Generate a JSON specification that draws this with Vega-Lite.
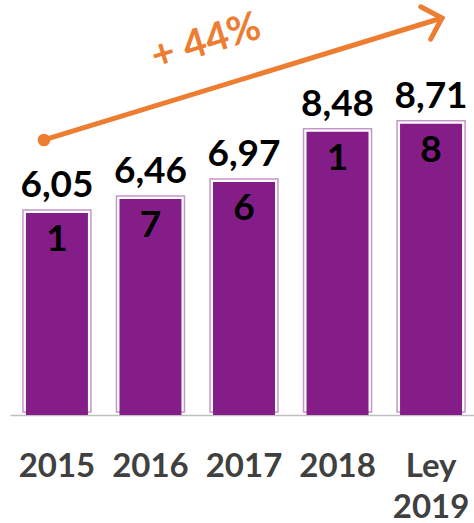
{
  "$schema": "https://vega.github.io/schema/vega-lite/v6.json",
  "width": 468,
  "height": 415,
  "autosize": "none",
  "padding": {"left": 10, "top": 0, "right": 0, "bottom": 108},
  "config": {"font": "Lato", "view": {"stroke": null}},
  "datasets": {
    "bars": [
      {"year": "2015", "value": 6.051, "label": "6,05\n1"},
      {"year": "2016", "value": 6.467, "label": "6,46\n7"},
      {"year": "2017", "value": 6.976, "label": "6,97\n6"},
      {"year": "2018", "value": 8.481, "label": "8,48\n1"},
      {"year": "Ley 2019", "value": 8.718, "label": "8,71\n8"}
    ],
    "arrow": [
      {"ax": 0.0726, "ay": 8.234},
      {"ax": 0.923, "ay": 11.886}
    ],
    "arrowStart": [{"ax": 0.0726, "ay": 8.234}],
    "arrowEnd": [{"ax": 0.923, "ay": 11.886}],
    "growth": [{"ax": 0.419, "ay": 11.16, "text": "+ 44%"}]
  },
  "layer": [
    {
      "data": {"name": "bars"},
      "encoding": {
        "x": {
          "field": "year",
          "type": "nominal",
          "sort": null,
          "scale": {"paddingInner": 0.274, "paddingOuter": 0.139},
          "axis": {
            "title": null,
            "orient": "bottom",
            "labelAngle": 0,
            "ticks": false,
            "tickSize": 0,
            "domainColor": "#bfbfbf",
            "domainWidth": 1.5,
            "labelFont": "Lato",
            "labelFontSize": 33,
            "labelFontWeight": "bold",
            "labelColor": "#404040",
            "labelPadding": 35,
            "labelLineHeight": 41,
            "labelBaseline": "top",
            "labelExpr": "datum.label == 'Ley 2019' ? ['Ley', '2019'] : datum.label"
          }
        },
        "y": {
          "field": "value",
          "type": "quantitative",
          "scale": {"domain": [0, 12.425], "nice": false, "zero": true},
          "axis": null
        }
      },
      "layer": [
        {
          "mark": {"type": "bar", "size": 68, "fill": null, "fillOpacity": 0, "stroke": "#c597c8", "strokeWidth": 1.5, "yOffset": -3}
        },
        {
          "mark": {"type": "bar", "size": 62, "fill": "#841d87"}
        },
        {
          "mark": {"type": "text", "lineBreak": "\n", "baseline": "middle", "align": "center", "lineHeight": 54, "dy": -27, "fontSize": 37, "fontWeight": "bold", "color": "#000000"},
          "encoding": {"text": {"field": "label"}}
        }
      ]
    },
    {
      "encoding": {
        "x": {"field": "ax", "type": "quantitative", "scale": {"domain": [0, 1], "nice": false, "zero": false}, "axis": null},
        "y": {"field": "ay", "type": "quantitative", "scale": {"domain": [0, 12.425], "nice": false, "zero": true}, "axis": null}
      },
      "layer": [
        {
          "data": {"name": "arrow"},
          "mark": {"type": "line", "color": "#ed7d31", "strokeWidth": 5, "strokeCap": "round"}
        },
        {
          "data": {"name": "arrowEnd"},
          "mark": {"type": "point", "shape": "M -1 -1 L 0 0 L -1 1", "filled": false, "stroke": "#ed7d31", "strokeWidth": 5, "strokeCap": "round", "strokeJoin": "miter", "size": 1150, "angle": -17, "opacity": 1}
        },
        {
          "data": {"name": "arrowStart"},
          "mark": {"type": "point", "shape": "circle", "filled": true, "color": "#ed7d31", "size": 160, "opacity": 1}
        },
        {
          "data": {"name": "growth"},
          "mark": {"type": "text", "angle": -17, "fontSize": 40, "fontWeight": "bold", "color": "#ed7d31", "align": "center", "baseline": "middle"},
          "encoding": {"text": {"field": "text"}}
        }
      ]
    }
  ],
  "resolve": {"scale": {"x": "independent"}, "axis": {"x": "independent"}}
}
